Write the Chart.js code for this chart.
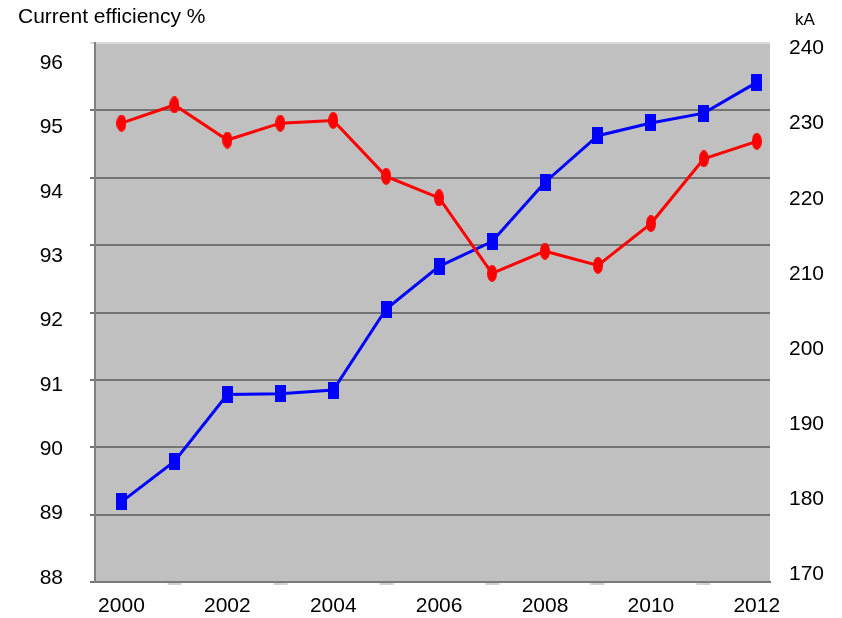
<!DOCTYPE html>
<html>
<head>
<meta charset="utf-8">
<title>Current efficiency and kA</title>
<script src="https://cdn.jsdelivr.net/npm/chart.js@4/dist/chart.umd.min.js"></script>
<style>
  body { margin: 0; background: #fff; }
  #chart { display: block; }
</style>
</head>
<body>
<canvas id="chart" width="842" height="618"></canvas>
<script>
//data
var years = [2000, 2001, 2002, 2003, 2004, 2005, 2006, 2007, 2008, 2009, 2010, 2011, 2012];
var efficiency = [94.81, 95.08, 94.56, 94.81, 94.85, 94.02, 93.70, 92.58, 92.91, 92.70, 93.32, 94.28, 94.54];
var current = [179.6, 185.0, 193.9, 194.0, 194.5, 205.3, 211.0, 214.3, 222.2, 228.4, 230.1, 231.4, 235.5];
var effTicks = [88, 89, 90, 91, 92, 93, 94, 95, 96];
var kaTicks = [170, 180, 190, 200, 210, 220, 230, 240];

var fontFamily = "'Liberation Sans', Arial, sans-serif";

//little canvases used as point markers (tall ellipse / tall box)
function markerCanvas(w, h, color, shape) {
  var c = document.createElement('canvas');
  c.width = w;
  c.height = h;
  var g = c.getContext('2d');
  g.fillStyle = color;
  if (shape == 'ellipse') {
    g.beginPath();
    g.ellipse(w / 2, h / 2, w / 2, h / 2, 0, 0, Math.PI * 2);
    g.fill();
  } else {
    g.fillRect(0, 0, w, h);
  }
  return c;
}

function toPoints(values) {
  return years.map(function(yr, i) { return {x: yr, y: values[i]}; });
}

function fixTicks(list) {
  return function(scale) {
    scale.ticks = list.map(function(v) { return {value: v}; });
  };
}

//grey plot area
var plotBackground = {
  id: 'plotBackground',
  beforeDraw: function(chart) {
    var a = chart.chartArea;
    var ctx = chart.ctx;
    ctx.save();
    ctx.fillStyle = '#c0c0c0';
    ctx.fillRect(a.left, a.top, a.right - a.left, a.bottom - a.top);
    ctx.restore();
  }
};

//unit text above the right axis
var unitLabel = {
  id: 'unitLabel',
  afterDraw: function(chart) {
    var s = chart.scales.y2;
    var ctx = chart.ctx;
    ctx.save();
    ctx.font = '17px ' + fontFamily;
    ctx.fillStyle = '#000';
    ctx.textAlign = 'left';
    ctx.textBaseline = 'middle';
    ctx.fillText('kA', s.left + 25, 20);
    ctx.restore();
  }
};

var mixedChartData = {
  datasets: [{
    label: 'Current efficiency',
    data: toPoints(efficiency),
    yAxisID: 'y',
    borderColor: '#ff0000',
    backgroundColor: '#ff0000',
    borderWidth: 3,
    pointStyle: markerCanvas(10, 17, '#ff0000', 'ellipse')
  },
  {
    label: 'kA',
    data: toPoints(current),
    yAxisID: 'y2',
    borderColor: '#0000ff',
    backgroundColor: '#0000ff',
    borderWidth: 3,
    pointStyle: markerCanvas(11, 17, '#0000ff', 'box')
  }]
};

window.onload = function() {
  var ctx = document.getElementById('chart').getContext('2d');
  window.mixedChart = new Chart(ctx, {
    type: 'line',
    data: mixedChartData,
    plugins: [plotBackground, unitLabel],
    options: {
      responsive: false,
      animation: false,
      events: [],
      layout: {
        padding: {left: 18, right: 0, top: 0, bottom: 0}
      },
      plugins: {
        legend: {display: false},
        tooltip: {enabled: false},
        title: {
          display: true,
          text: 'Current efficiency %',
          align: 'start',
          color: '#000',
          font: {family: fontFamily, size: 21, weight: 'normal'},
          padding: {top: 5, bottom: 12.8}
        }
      },
      scales: {
        x: {
          type: 'linear',
          position: 'bottom',
          min: 1999.5,
          max: 2012.25,
          afterBuildTicks: fixTicks(years),
          afterFit: function(s) { s.height = 36; },
          //faint marks under the axis between the labelled years
          grid: {
            drawOnChartArea: false,
            drawTicks: true,
            tickLength: 3,
            tickWidth: 14,
            tickColor: function(c) { return c.tick && c.tick.value % 2 == 1 ? '#d2d2d2' : 'rgba(0,0,0,0)'; }
          },
          border: {color: '#7a7a7a', width: 2},
          ticks: {
            color: '#000',
            font: {family: fontFamily, size: 21},
            padding: 9,
            autoSkip: false,
            maxRotation: 0,
            callback: function(v) { return v % 2 == 0 ? String(v) : ''; }
          }
        },
        y: {
          position: 'left',
          weight: 0,
          min: 88,
          max: 96,
          afterFit: function(s) { s.width = 5; },
          ticks: {display: false, stepSize: 1},
          grid: {
            color: function(c) { return c.tick && c.tick.value == 96 ? '#dadada' : '#737373'; },
            lineWidth: 2,
            tickLength: 5,
            drawTicks: true
          },
          border: {color: '#808080', width: 2}
        },
        yl: {
          position: 'left',
          weight: 1,
          min: 87.937,
          max: 96.314,
          afterBuildTicks: fixTicks(effTicks),
          afterFit: function(s) { s.width = 72; },
          //invisible tick marks push the labels away from the plot
          grid: {drawOnChartArea: false, drawTicks: true, tickLength: 27, tickColor: 'rgba(0,0,0,0)'},
          border: {display: false},
          ticks: {
            color: '#000',
            font: {family: fontFamily, size: 21},
            padding: 0,
            callback: function(v) { return String(v); }
          }
        },
        y2: {
          position: 'right',
          min: 168.93,
          max: 240.75,
          afterBuildTicks: fixTicks(kaTicks),
          afterFit: function(s) { s.width = 72; },
          grid: {drawOnChartArea: false, drawTicks: true, tickLength: 19, tickColor: 'rgba(0,0,0,0)'},
          border: {display: false},
          ticks: {
            color: '#000',
            font: {family: fontFamily, size: 21},
            padding: 0,
            callback: function(v) { return String(v); }
          }
        }
      }
    }
  });
};
</script>
</body>
</html>
